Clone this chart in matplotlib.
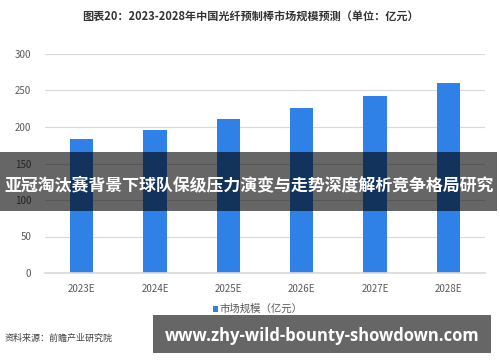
import matplotlib
matplotlib.use("Agg")
import matplotlib.pyplot as plt
from matplotlib.patches import Rectangle

plt.rcParams["font.family"] = ["Noto Sans CJK SC", "DejaVu Sans"]

# data
years = ["2023E", "2024E", "2025E", "2026E", "2027E", "2028E"]
market_size = [183, 196, 211, 226, 242, 260]
y_ticks = [0, 50, 100, 150, 200, 250, 300]

title = "图表20：2023-2028年中国光纤预制棒市场规模预测（单位：亿元）"
legend_label = "市场规模（亿元）"
source = "资料来源：前瞻产业研究院"
banner = "亚冠淘汰赛背景下球队保级压力演变与走势深度解析竞争格局研究"
site = "www.zhy-wild-bounty-showdown.com"

W, H = 500, 362
fig = plt.figure(figsize=(W / 100, H / 100), dpi=100)
ax = fig.add_axes([45 / W, 1 - 273 / H, 440 / W, 219 / H])

ax.bar(range(len(years)), market_size, width=0.32, color="#2f80e7", zorder=2)
ax.set_xlim(-0.5, len(years) - 0.5)
ax.set_ylim(0, 300)
ax.set_yticks(y_ticks)
ax.set_xticks(range(len(years)))
ax.set_xticklabels(years)
ax.grid(axis="y", color="#d9d9d9", linewidth=0.8, zorder=0)
for s in ["top", "right", "left"]:
    ax.spines[s].set_visible(False)
ax.spines["bottom"].set_color("#d9d9d9")
ax.spines["bottom"].set_linewidth(1.2)
ax.tick_params(length=0, labelsize=7, colors="#595959", pad=8)
ax.tick_params(axis="y", pad=10)

fig.text(0.5, 1 - 16 / H, title, ha="center", va="center", fontsize=8,
         fontweight="bold", color="#333333")

# legend
fig.patches.append(Rectangle((213 / W, 1 - 312 / H), 5 / W, 6 / H,
                             transform=fig.transFigure, facecolor="#2f80e7",
                             edgecolor="none"))
fig.text(220 / W, 1 - 309 / H, legend_label, ha="left", va="center",
         fontsize=7.5, color="#595959")

fig.text(5 / W, 1 - 338 / H, source, ha="left", va="center", fontsize=6.5,
         color="#404040")

# overlay banners
fig.patches.append(Rectangle((0, 1 - 211 / H), 497 / W, 59 / H,
                             transform=fig.transFigure, facecolor="black",
                             edgecolor="none", alpha=0.6, zorder=5))
fig.text(249 / W, 1 - 185 / H, banner, ha="center", va="center",
         fontsize=12.2, fontweight="bold", color="white", zorder=6)

fig.patches.append(Rectangle((153 / W, 1 - 353 / H), 338 / W, 38 / H,
                             transform=fig.transFigure, facecolor="#666666",
                             edgecolor="none", zorder=5))
fig.text(322 / W, 1 - 336 / H, site, ha="center", va="center",
         fontsize=12, fontweight="bold", color="white", zorder=6,
         family=["Open Sans", "DejaVu Sans"])

fig.savefig("out.png", dpi=100)
